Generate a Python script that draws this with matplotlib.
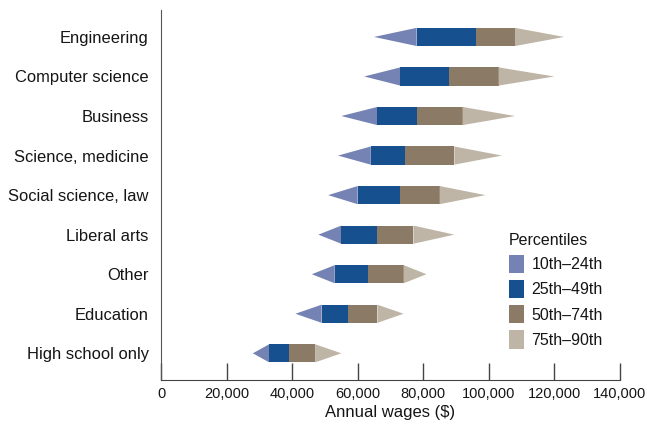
import matplotlib
matplotlib.use("Agg")
import matplotlib.pyplot as plt
from matplotlib.patches import Patch

categories = ["High school only", "Education", "Other", "Liberal arts",
              "Social science, law", "Science, medicine", "Business",
              "Computer science", "Engineering"]
p10 = [28000, 41000, 46000, 48000, 51000, 54000, 55000, 62000, 65000]
p25 = [33000, 49000, 53000, 55000, 60000, 64000, 66000, 73000, 78000]
p50 = [39000, 57000, 63000, 66000, 73000, 74500, 78000, 88000, 96000]
p75 = [47000, 66000, 74000, 77000, 85000, 89500, 92000, 103000, 108000]
p90 = [55000, 74000, 81000, 89500, 99000, 104000, 108000, 120000, 123000]

legend_labels = ["10th\u201324th", "25th\u201349th", "50th\u201374th", "75th\u201390th"]
colors = ["#7582b4", "#17508e", "#8b7a65", "#bfb5a7"]
xticks = [0, 20000, 40000, 60000, 80000, 100000, 120000, 140000]

plt.rcParams['font.family'] = ['Liberation Sans Narrow', 'Liberation Sans', 'DejaVu Sans']

fig = plt.figure(figsize=(6.47, 4.37), dpi=100)
ax = fig.add_axes([0.249, 0.130, 0.709, 0.847])

h = 0.23
for i in range(len(categories)):
    y = i
    ax.fill([p10[i], p25[i], p25[i]], [y, y - h, y + h], color=colors[0], lw=0)
    ax.fill([p25[i], p50[i], p50[i], p25[i]], [y - h, y - h, y + h, y + h], color=colors[1], lw=0)
    ax.fill([p50[i], p75[i], p75[i], p50[i]], [y - h, y - h, y + h, y + h], color=colors[2], lw=0)
    ax.fill([p75[i], p90[i], p75[i]], [y - h, y, y + h], color=colors[3], lw=0)

ax.set_xlim(0, 140000)
ax.set_ylim(-0.68, 8.68)
ax.set_yticks(range(len(categories)))
ax.set_yticklabels(categories, fontsize=11.9, color="#151515")
ax.tick_params(axis='y', length=0, pad=9)
ax.set_xticks(xticks)
ax.set_xticklabels([f"{v:,}" for v in xticks], fontsize=10.5, color="#151515")
ax.tick_params(axis='x', direction='in', length=12, width=1, color="#444444", pad=5)
for s in ["top", "right"]:
    ax.spines[s].set_visible(False)
ax.spines["left"].set_color("#555555")
ax.spines["bottom"].set_color("#444444")
ax.set_xlabel("Annual wages ($)", fontsize=12, color="#151515", labelpad=3)

handles = [Patch(facecolor=c, edgecolor='none') for c in colors]
leg = ax.legend(handles, legend_labels, title="Percentiles", loc="upper left",
                bbox_to_anchor=(0.745, 0.415), frameon=False, fontsize=11.5,
                title_fontsize=11.5, handlelength=0.9, handleheight=1.4,
                handletextpad=0.5, labelspacing=0.42, borderaxespad=0)
leg._legend_box.align = "left"
for t in leg.get_texts():
    t.set_color("#151515")
leg.get_title().set_color("#151515")

fig.savefig("out.png", dpi=100)
